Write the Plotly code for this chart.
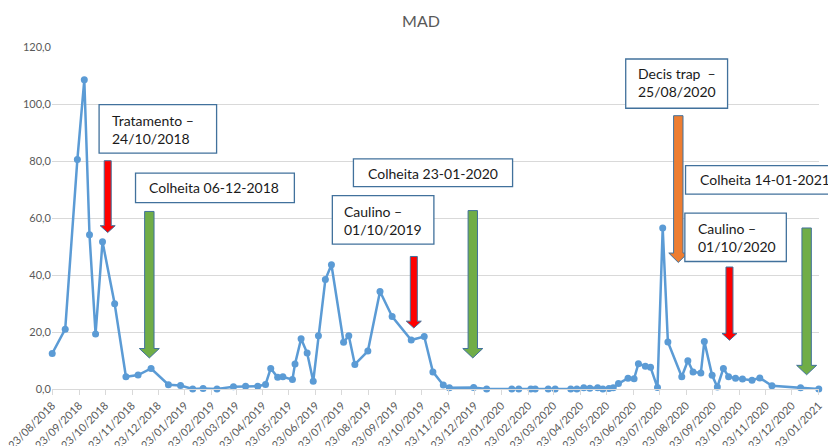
import pandas as pd
import plotly.express as px

# leituras MAD (datas de coleta)
datas = ['2018-08-23', '2018-09-07', '2018-09-21', '2018-09-29', '2018-10-05', '2018-10-12',
         '2018-10-20', '2018-11-03', '2018-11-16', '2018-11-30', '2018-12-15', '2019-01-04',
         '2019-01-18', '2019-02-01', '2019-02-13', '2019-03-01', '2019-03-20', '2019-04-03',
         '2019-04-17', '2019-04-26', '2019-05-02', '2019-05-10', '2019-05-16', '2019-05-27',
         '2019-05-30', '2019-06-06', '2019-06-13', '2019-06-20', '2019-06-26', '2019-07-04',
         '2019-07-11', '2019-07-25', '2019-07-31', '2019-08-07', '2019-08-22', '2019-09-05',
         '2019-09-19', '2019-10-11', '2019-10-26', '2019-11-05', '2019-11-17', '2019-11-24',
         '2019-12-22', '2020-01-06', '2020-02-04', '2020-02-12', '2020-02-26', '2020-03-02',
         '2020-03-17', '2020-03-25', '2020-04-12', '2020-04-19', '2020-04-27', '2020-05-04',
         '2020-05-13', '2020-05-19', '2020-05-26', '2020-05-31', '2020-06-06', '2020-06-17',
         '2020-06-24', '2020-06-29', '2020-07-07', '2020-07-13', '2020-07-21', '2020-07-27',
         '2020-08-02', '2020-08-18', '2020-08-25', '2020-08-31', '2020-09-09', '2020-09-13',
         '2020-09-22', '2020-09-28', '2020-10-05', '2020-10-11', '2020-10-19', '2020-10-27',
         '2020-11-07', '2020-11-16', '2020-11-30', '2021-01-02', '2021-01-23']
mad = [12.5, 21.0, 80.5, 108.5, 54.1, 19.3,
       51.7, 29.9, 4.3, 4.9, 7.2, 1.5,
       1.2, 0.0, 0.2, 0.0, 0.8, 1.0,
       1.0, 1.6, 7.2, 4.1, 4.3, 3.3,
       8.8, 17.6, 12.6, 2.7, 18.7, 38.4,
       43.6, 16.4, 18.7, 8.6, 13.3, 34.2,
       25.4, 17.2, 18.4, 6.0, 1.4, 0.4,
       0.5, 0.0, 0.0, 0.0, 0.0, 0.0,
       0.0, 0.0, 0.0, 0.0, 0.4, 0.3,
       0.4, 0.0, 0.2, 0.4, 1.9, 3.8,
       3.6, 8.9, 8.0, 7.6, 0.5, 56.5,
       16.5, 4.3, 9.9, 6.0, 5.6, 16.7,
       4.8, 0.7, 7.2, 4.3, 3.8, 3.5,
       3.1, 3.9, 1.1, 0.4, 0.0]

# setas (eventos)
seta_datas = ['2018-10-26', '2018-12-13', '2019-10-14', '2019-12-21', '2020-08-14', '2020-10-12', '2021-01-09']
seta_topo = [80.1, 62.3, 46.5, 62.6, 95.9, 42.8, 56.5]
seta_ponta = [54.9, 10.9, 21.4, 10.9, 44.4, 17.1, 5.0]
seta_tipo = ['trat', 'colheita', 'trat', 'colheita', 'decis', 'trat', 'colheita']

# caixas de texto (coordenadas do papel)
caixa_textos = ['Tratamento –<br>24/10/2018', 'Colheita 06-12-2018', 'Caulino –<br>01/10/2019',
                'Colheita 23-01-2020', 'Decis trap  –<br>25/08/2020', 'Colheita 14-01-2021',
                'Caulino –<br>01/10/2020']
caixa_x0 = [0.0614, 0.1089, 0.3655, 0.3930, 0.7480, 0.8260, 0.8251]
caixa_x1 = [0.2146, 0.3160, 0.4979, 0.6005, 0.8808, 1.0300, 0.9574]
caixa_y0 = [0.6895, 0.5451, 0.4236, 0.5919, 0.8209, 0.5697, 0.3728]
caixa_y1 = [0.8314, 0.6310, 0.5656, 0.6728, 0.9649, 0.6532, 0.5142]
texto_x = [0.0753, 0.1245, 0.3778, 0.4095, 0.7616, 0.8420, 0.8390]
texto_y = [0.7599, 0.5890, 0.4931, 0.6310, 0.8948, 0.6115, 0.4426]

estilos = {
    'trat': ('#FF0000', 3.5, 7.5, 2.4),
    'colheita': ('#70AD47', 4.7, 10, 3.3),
    'decis': ('#ED7D31', 4.7, 9.5, 3.3),
}

df = pd.DataFrame({'Data': pd.to_datetime(datas), 'MAD': mad})

fig = px.line(df, x='Data', y='MAD', markers=True, title='MAD')
fig.update_traces(line=dict(color='#5B9BD5', width=2.5),
                  marker=dict(size=7, color='#5B9BD5'),
                  cliponaxis=False)

for data, topo, ponta, tipo in zip(seta_datas, seta_topo, seta_ponta, seta_tipo):
    cor, sw, hw, hh = estilos[tipo]
    base = ponta + hh
    path = (f'M {-sw},{topo} L {sw},{topo} L {sw},{base} L {hw},{base} '
            f'L 0,{ponta} L {-hw},{base} L {-sw},{base} Z')
    fig.add_shape(type='path', xref='x', yref='y', xsizemode='pixel', xanchor=data,
                  path=path, fillcolor=cor, line=dict(color='#41719C', width=1))

for i in range(len(caixa_textos)):
    fig.add_shape(type='rect', xref='paper', yref='paper',
                  x0=caixa_x0[i], x1=caixa_x1[i], y0=caixa_y0[i], y1=caixa_y1[i],
                  fillcolor='white', line=dict(color='#41719C', width=1.3))
    fig.add_annotation(text=caixa_textos[i], xref='paper', yref='paper',
                       x=texto_x[i], y=texto_y[i], xanchor='left', yanchor='middle',
                       align='left', showarrow=False,
                       font=dict(family='Lato', size=14, color='#1a1a1a'))

# a página desloca a figura 8 px (margem do body), compensado nas margens
fig.update_layout(
    width=836, height=446,
    margin=dict(l=44, r=25, t=39, b=65),
    plot_bgcolor='white', paper_bgcolor='white',
    separators=',.',
    showlegend=False,
    font=dict(family='Lato', color='#595959'),
    title=dict(text='MAD', x=0.494, y=0.969, xanchor='center', yanchor='middle',
               font=dict(size=16, color='#595959')),
)
fig.update_xaxes(
    title_text=None, automargin=False,
    type='date',
    range=['2018-08-22 18:00', '2021-01-23 06:00'],
    tick0='2018-08-23', dtick='M1', tickformat='%d/%m/%Y', tickangle=-45,
    ticklabeloverflow='allow',
    tickfont=dict(size=11, color='#595959'),
    showgrid=False, showline=True, linecolor='#D9D9D9', linewidth=1,
    ticks='outside', ticklen=5, tickcolor='#D9D9D9',
)
fig.update_yaxes(
    title_text=None, automargin=False,
    range=[0, 120], dtick=20, tickformat='.1f',
    tickfont=dict(size=11, color='#595959'),
    showgrid=True, gridcolor='#D9D9D9', gridwidth=1, zeroline=False,
)

fig.write_html('out.html')
